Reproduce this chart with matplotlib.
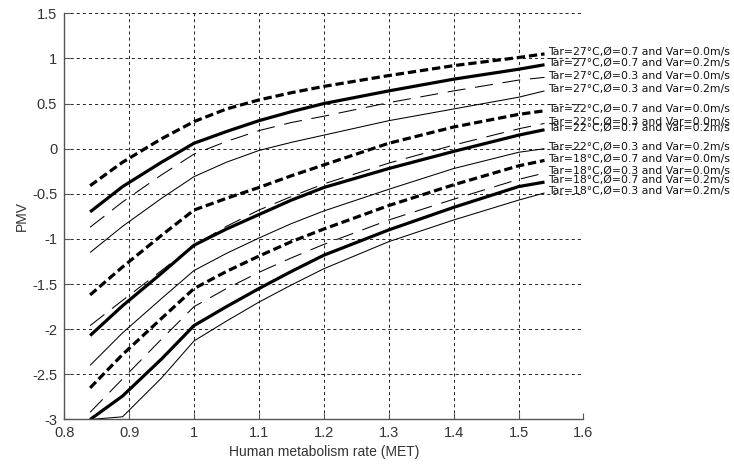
import matplotlib
matplotlib.use("Agg")
import matplotlib.pyplot as plt
from matplotlib.ticker import FormatStrFormatter, MultipleLocator

plt.rcParams["font.family"] = ["Liberation Sans", "DejaVu Sans"]
plt.rcParams["lines.scale_dashes"] = False

# Human metabolism rate (MET)
met = [0.84, 0.89, 0.95, 1.00, 1.05, 1.10, 1.15, 1.20, 1.30, 1.40, 1.50, 1.54]

# PMV curves: air temperature, humidity and air velocity
pmv_27_h07_v00 = [-0.41, -0.15, 0.11, 0.30, 0.44, 0.54, 0.62, 0.69, 0.81, 0.92, 1.01, 1.05]
pmv_27_h07_v02 = [-0.70, -0.42, -0.15, 0.06, 0.19, 0.31, 0.41, 0.50, 0.64, 0.77, 0.88, 0.93]
pmv_27_h03_v00 = [-0.87, -0.59, -0.29, -0.06, 0.08, 0.20, 0.29, 0.36, 0.51, 0.64, 0.76, 0.79]
pmv_27_h03_v02 = [-1.15, -0.86, -0.55, -0.31, -0.15, -0.02, 0.07, 0.15, 0.31, 0.44, 0.57, 0.64]

pmv_22_h07_v00 = [-1.62, -1.31, -0.96, -0.68, -0.55, -0.43, -0.30, -0.18, 0.06, 0.24, 0.38, 0.42]
pmv_22_h03_v00 = [-1.96, -1.68, -1.35, -1.07, -0.86, -0.68, -0.53, -0.39, -0.16, 0.04, 0.22, 0.28]
pmv_22_h07_v02 = [-2.07, -1.74, -1.38, -1.07, -0.89, -0.73, -0.57, -0.43, -0.22, -0.03, 0.15, 0.21]
pmv_22_h03_v02 = [-2.40, -2.04, -1.66, -1.35, -1.16, -0.99, -0.83, -0.69, -0.45, -0.22, -0.04, 0.00]

pmv_18_h07_v00 = [-2.65, -2.28, -1.88, -1.55, -1.36, -1.19, -1.03, -0.89, -0.63, -0.40, -0.19, -0.13]
pmv_18_h03_v00 = [-2.92, -2.55, -2.11, -1.75, -1.55, -1.37, -1.21, -1.06, -0.79, -0.56, -0.34, -0.27]
pmv_18_h07_v02 = [-3.00, -2.74, -2.33, -1.96, -1.75, -1.55, -1.36, -1.18, -0.90, -0.65, -0.42, -0.37]
pmv_18_h03_v02 = [-3.00, -2.97, -2.54, -2.13, -1.91, -1.70, -1.51, -1.33, -1.03, -0.79, -0.57, -0.49]

labels = [
    "Tar=27°C,Ø=0.7 and Var=0.0m/s",
    "Tar=27°C,Ø=0.7 and Var=0.2m/s",
    "Tar=27°C,Ø=0.3 and Var=0.0m/s",
    "Tar=27°C,Ø=0.3 and Var=0.2m/s",
    "Tar=22°C,Ø=0.7 and Var=0.0m/s",
    "Tar=22°C,Ø=0.3 and Var=0.0m/s",
    "Tar=22°C,Ø=0.7 and Var=0.2m/s",
    "Tar=22°C,Ø=0.3 and Var=0.2m/s",
    "Tar=18°C,Ø=0.7 and Var=0.0m/s",
    "Tar=18°C,Ø=0.3 and Var=0.0m/s",
    "Tar=18°C,Ø=0.7 and Var=0.2m/s",
    "Tar=18°C,Ø=0.3 and Var=0.2m/s",
]
series = [
    pmv_27_h07_v00, pmv_27_h07_v02, pmv_27_h03_v00, pmv_27_h03_v02,
    pmv_22_h07_v00, pmv_22_h03_v00, pmv_22_h07_v02, pmv_22_h03_v02,
    pmv_18_h07_v00, pmv_18_h03_v00, pmv_18_h07_v02, pmv_18_h03_v02,
]

# line styles: humidity 0.7 -> thick, 0.3 -> thin; still air -> dashed
thick_dash = dict(lw=2.3, ls=(0, (6, 2.8)))
thick_solid = dict(lw=2.3, ls="-")
thin_dash = dict(lw=0.75, ls=(0, (13, 7)))
thin_solid = dict(lw=0.75, ls="-")
styles = [
    thick_dash, thick_solid, thin_dash, thin_solid,
    thick_dash, thin_dash, thick_solid, thin_solid,
    thick_dash, thin_dash, thick_solid, thin_solid,
]

fig = plt.figure(figsize=(7.34, 4.66), dpi=100)
ax = fig.add_axes([0.0874, 0.0998, 0.7075, 0.8717])

for y, st, lab in zip(series, styles, labels):
    ax.plot(met, y, color="black", solid_capstyle="butt",
            dash_capstyle="butt", solid_joinstyle="round", **st)
    ax.text(met[-1] + 0.006, y[-1] + 0.02, lab, fontsize=7.8,
            family="DejaVu Sans", ha="left", va="center",
            color="#111111", clip_on=False)

ax.set_xlim(0.8, 1.6)
ax.set_ylim(-3, 1.5)
ax.xaxis.set_major_locator(MultipleLocator(0.1))
ax.yaxis.set_major_locator(MultipleLocator(0.5))
ax.xaxis.set_major_formatter(FormatStrFormatter("%g"))
ax.yaxis.set_major_formatter(FormatStrFormatter("%g"))

ax.grid(True, color="#222222", lw=0.7, ls=(0, (2.2, 2.2)))
ax.set_axisbelow(True)

for side in ("top", "right"):
    ax.spines[side].set_visible(False)
for side in ("left", "bottom"):
    ax.spines[side].set_color("#555555")
    ax.spines[side].set_linewidth(1.0)

ax.tick_params(direction="in", length=4, width=0.8, colors="#555555",
               labelcolor="#333333", labelsize=10.5, pad=5)

ax.set_xlabel("Human metabolism rate (MET)", fontsize=10, color="#333333",
              labelpad=3)
ax.set_ylabel("PMV", fontsize=10, color="#333333", labelpad=2.5)

fig.savefig("out.png", dpi=100)
